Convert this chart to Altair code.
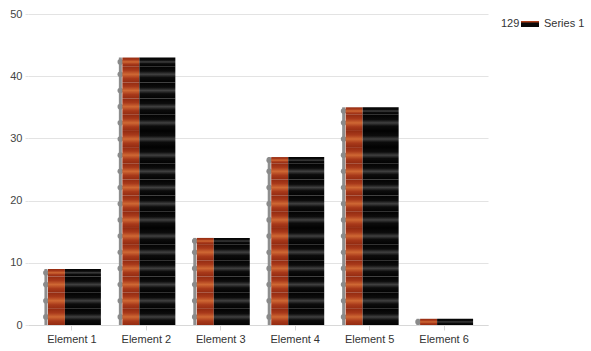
import altair as alt
import pandas as pd

categories = ["Element 1", "Element 2", "Element 3", "Element 4", "Element 5", "Element 6"]
values = [9, 43, 14, 27, 35, 1]
series_name = "Series 1"
legend_prefix = "129"

PERIOD = 2.6  # texture period in data units

bars = pd.DataFrame({"cat": categories, "value": values})

rows = []
for c, v in zip(categories, values):
    k = 0
    while k * PERIOD < v:
        y0 = k * PERIOD
        y1 = min((k + 1) * PERIOD, v)
        rows.append({"cat": c, "y0": y0, "y1": y1, "ym": (y0 + y1) / 2})
        k += 1
segs = pd.DataFrame(rows)

FONT = "Liberation Sans"

xaxis = alt.Axis(labelAngle=0, labelFont=FONT, labelFontSize=11, labelColor="#333333",
                 domain=True, domainColor="#d8d8d8", tickColor="#d8d8d8", tickSize=5,
                 labelPadding=3, grid=False, title=None)
xscale = alt.Scale(paddingInner=0, paddingOuter=0.09)
yscale = alt.Scale(domain=[0, 50], nice=False)
yaxis = alt.Axis(values=[0, 10, 20, 30, 40, 50], labelFont=FONT, labelFontSize=11,
                 labelColor="#444444", domain=False, tickColor="#e3e3e3", tickSize=3,
                 labelPadding=3, gridColor="#e3e3e3", title=None)

def X():
    return alt.X("cat:N", sort=categories, title=None, scale=xscale, axis=xaxis)

def Y(f):
    return alt.Y(f, title=None, scale=yscale, axis=yaxis)

def grad(stops):
    return alt.Gradient(gradient="linear", x1=0, x2=0, y1=0, y2=1,
                        stops=[alt.GradientStop(offset=o, color=c) for o, c in stops])

orange = grad([(0, "#932b11"), (0.25, "#a8391a"), (0.5, "#cf6834"), (0.75, "#a8391a"), (1, "#932b11")])
black = grad([(0, "#020202"), (0.3, "#0c0c0c"), (0.5, "#404040"), (0.7, "#0c0c0c"), (1, "#020202")])

edge = alt.Chart(bars).mark_bar(width=3, xOffset=-26, color="#8e8e8e").encode(
    x=X(), y=Y("value:Q"))

bumps = alt.Chart(segs).mark_point(filled=True, size=32, xOffset=-26, color="#8a8a8a", opacity=1).encode(
    x=X(), y=Y("ym:Q"))

orange_l = alt.Chart(segs).mark_bar(width=17, xOffset=-15.5, fill=orange, strokeWidth=0).encode(
    x=X(), y=Y("y0:Q"), y2="y1:Q")

black_l = alt.Chart(segs).mark_bar(width=36, xOffset=11, fill=black, strokeWidth=0).encode(
    x=X(), y=Y("y0:Q"), y2="y1:Q")

leg = pd.DataFrame({"prefix": [legend_prefix], "name": [series_name]})
leg_prefix = alt.Chart(leg).mark_text(align="left", baseline="middle", font=FONT, fontSize=11,
                                      color="#333333").encode(
    x=alt.value(473), y=alt.value(10), text="prefix:N")
leg_sw = alt.Chart(leg).mark_rect(color="#0a0a0a").encode(
    x=alt.value(493), x2=alt.value(511), y=alt.value(7), y2=alt.value(13))
leg_sw2 = alt.Chart(leg).mark_rect(color="#b0401c").encode(
    x=alt.value(493), x2=alt.value(511), y=alt.value(7), y2=alt.value(8.5))
leg_name = alt.Chart(leg).mark_text(align="left", baseline="middle", font=FONT, fontSize=11,
                                    color="#333333").encode(
    x=alt.value(516), y=alt.value(10), text="name:N")

chart = alt.layer(edge, bumps, orange_l, black_l, leg_prefix, leg_sw, leg_sw2, leg_name).properties(
    width=460, height=311,
    autosize=alt.AutoSizeParams(type="none"),
    padding={"left": 28, "top": 14, "right": 103, "bottom": 26},
).configure(background="white").configure_view(strokeWidth=0).configure_axisY(domain=False)

chart.save("out.html", embed_options={"renderer": "svg", "actions": False})
